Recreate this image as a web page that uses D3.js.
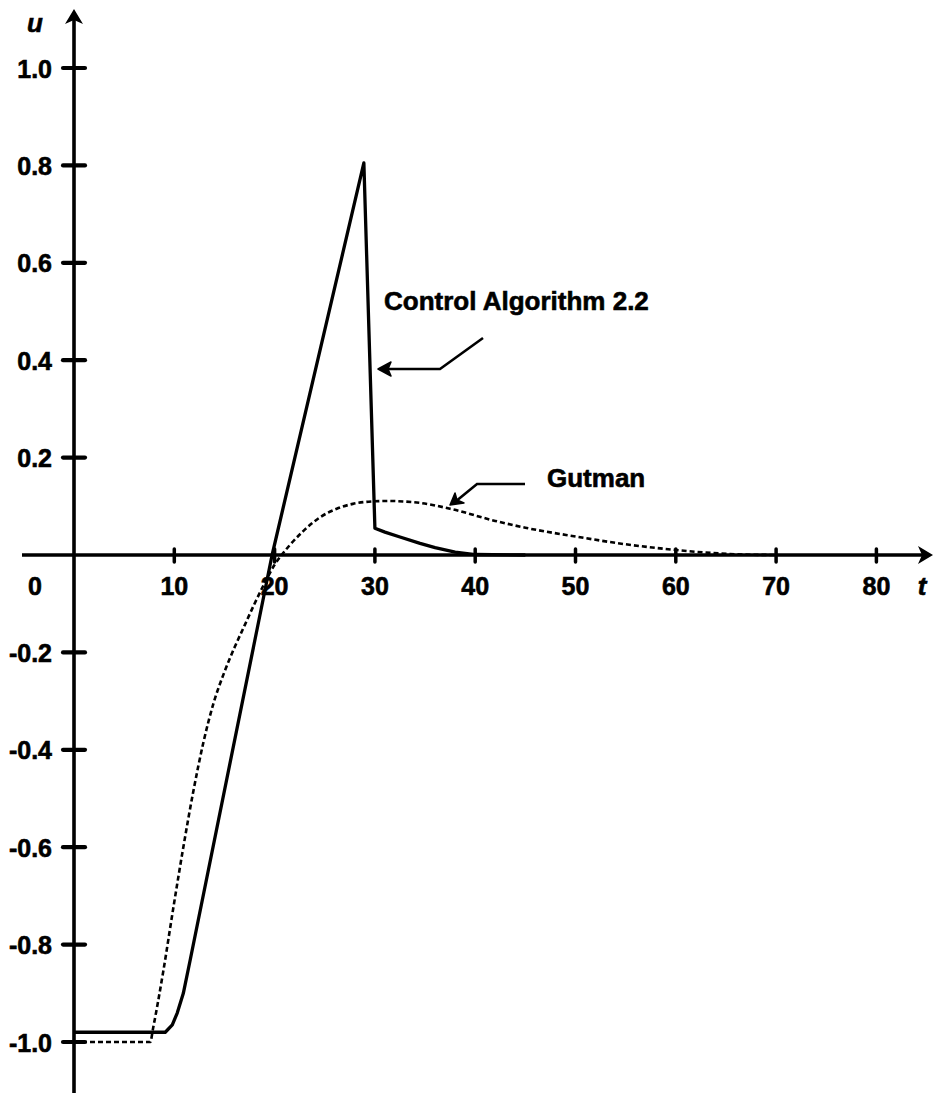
<!DOCTYPE html>
<html>
<head>
<meta charset="utf-8">
<script src="https://cdn.jsdelivr.net/npm/d3@7"></script>
<style>
  html, body { margin: 0; padding: 0; background: #fff; }
  svg { display: block; }
  text { font-family: "Liberation Sans", Arial, Helvetica, sans-serif; font-weight: bold; fill: #000; stroke: #000; stroke-width: 0.6px; }
</style>
</head>
<body>
<svg id="chart" width="937" height="1094"></svg>
<script>
// ---- data ----
const xTicks = [10, 20, 30, 40, 50, 60, 70, 80];
const xTickLabels = ["10", "20", "30", "40", "50", "60", "70", "80"];
const yTicks = [1.0, 0.8, 0.6, 0.4, 0.2, -0.2, -0.4, -0.6, -0.8, -1.0];
const yTickLabels = ["1.0", "0.8", "0.6", "0.4", "0.2", "-0.2", "-0.4", "-0.6", "-0.8", "-1.0"];

const ctrlT = [0, 9.1, 9.8, 10.3, 10.9, 11.6, 19.75, 28.9, 30.0, 31.0, 32.5, 34.5, 36.0, 38.0, 40.0, 45.0];
const ctrlU = [-0.98, -0.98, -0.965, -0.94, -0.9, -0.83, 0, 0.805, 0.055, 0.047, 0.037, 0.024, 0.015, 0.006, 0.001, 0];

const gutT = [0, 7.6, 7.9, 8.9, 9.9, 10.9, 11.9, 12.9, 13.9, 15.0, 16.0, 17.0, 18.0, 19.0, 20.0, 20.7, 21.5, 22.8, 24.5, 26.2, 27.8, 29.7, 31.3, 32.8, 34.5, 37.5, 42.0, 45.0, 50.0, 55.0, 59.7, 63.0, 66.7, 70.0];
const gutU = [-1.0, -1.0, -0.97, -0.855, -0.725, -0.6, -0.485, -0.385, -0.305, -0.24, -0.19, -0.145, -0.1, -0.058, -0.02, 0, 0.02, 0.048, 0.077, 0.095, 0.105, 0.11, 0.111, 0.11, 0.107, 0.095, 0.07, 0.056, 0.038, 0.022, 0.011, 0.005, 0.001, 0];

// ---- layout ----
const svg = d3.select("#chart");
const x = d3.scaleLinear().domain([0, 80]).range([74, 876.4]);
const y = d3.scaleLinear().domain([-1, 1]).range([1042, 68]);

// ---- axes ----
const axisW = 3.6;
svg.append("line").attr("x1", 22).attr("x2", 926).attr("y1", y(0)).attr("y2", y(0))
  .attr("stroke", "#000").attr("stroke-width", axisW);
svg.append("line").attr("x1", x(0)).attr("x2", x(0)).attr("y1", 1093).attr("y2", 18)
  .attr("stroke", "#000").attr("stroke-width", axisW);

// arrowheads
const ax = 933, ay = y(0);
svg.append("path").attr("d", `M${ax},${ay} L${ax-15},${ay-9} L${ax-11},${ay} L${ax-15},${ay+9} Z`).attr("fill", "#000");
const tx = x(0), ty = 9;
svg.append("path").attr("d", `M${tx},${ty} L${tx-9},${ty+15} L${tx},${ty+11} L${tx+9},${ty+15} Z`).attr("fill", "#000");

// ticks
svg.selectAll(".xt").data(xTicks).enter().append("line")
  .attr("x1", d => x(d)).attr("x2", d => x(d)).attr("y1", y(0) - 6).attr("y2", y(0) + 7)
  .attr("stroke", "#000").attr("stroke-width", 3.5).attr("stroke-linecap", "round");
svg.selectAll(".yt").data(yTicks).enter().append("line")
  .attr("x1", x(0) - 11).attr("x2", x(0) + 11).attr("y1", d => y(d)).attr("y2", d => y(d))
  .attr("stroke", "#000").attr("stroke-width", 4.2).attr("stroke-linecap", "round");

// tick labels
svg.selectAll(".xl").data(xTicks).enter().append("text")
  .attr("x", d => x(d)).attr("y", 595).attr("text-anchor", "middle")
  .style("font-size", "25px").text((d, i) => xTickLabels[i]);
svg.append("text").attr("x", 35).attr("y", 595).attr("text-anchor", "middle")
  .style("font-size", "25px").text("0");
svg.selectAll(".yl").data(yTicks).enter().append("text")
  .attr("x", 52).attr("y", d => y(d) + 9.5).attr("text-anchor", "end")
  .style("font-size", "25px").text((d, i) => yTickLabels[i]);

// axis titles
svg.append("text").attr("x", 35).attr("y", 32).attr("text-anchor", "middle")
  .style("font-size", "26px").style("font-style", "italic").text("u");
svg.append("text").attr("x", 922).attr("y", 595).attr("text-anchor", "middle")
  .style("font-size", "26px").style("font-style", "italic").text("t");

// ---- series ----
const ctrlData = ctrlT.map((t, i) => [t, ctrlU[i]]);
const gutData = gutT.map((t, i) => [t, gutU[i]]);

const lineLin = d3.line().x(d => x(d[0])).y(d => y(d[1])).curve(d3.curveLinear);
const lineSmooth = d3.line().x(d => x(d[0])).y(d => y(d[1])).curve(d3.curveMonotoneX);

svg.append("path").attr("d", lineSmooth(gutData)).attr("fill", "none")
  .attr("stroke", "#000").attr("stroke-width", 2.6).attr("stroke-dasharray", "5,3");
svg.append("path").attr("d", lineLin(ctrlData)).attr("fill", "none")
  .attr("stroke", "#000").attr("stroke-width", 3.3).attr("stroke-linejoin", "round");

// ---- annotations ----
svg.append("text").attr("x", 384).attr("y", 310).style("font-size", "26px").text("Control Algorithm 2.2");
svg.append("path").attr("d", "M483,338 L440,369 L384,369").attr("fill", "none")
  .attr("stroke", "#000").attr("stroke-width", 2.6);
svg.append("path").attr("d", "M378,369 L391,362 L388,369 L391,376 Z").attr("fill", "#000")
  .attr("stroke", "#000").attr("stroke-width", 1.5).attr("stroke-linejoin", "round");

svg.append("text").attr("x", 547).attr("y", 487).style("font-size", "26px").text("Gutman");
svg.append("path").attr("d", "M525,484 L477,484 L455,502").attr("fill", "none")
  .attr("stroke", "#000").attr("stroke-width", 2.6);
svg.append("path").attr("d", "M450,505 L455,493 L457,500 L464,503 Z").attr("fill", "#000")
  .attr("stroke", "#000").attr("stroke-width", 1.5).attr("stroke-linejoin", "round");
</script>
</body>
</html>
